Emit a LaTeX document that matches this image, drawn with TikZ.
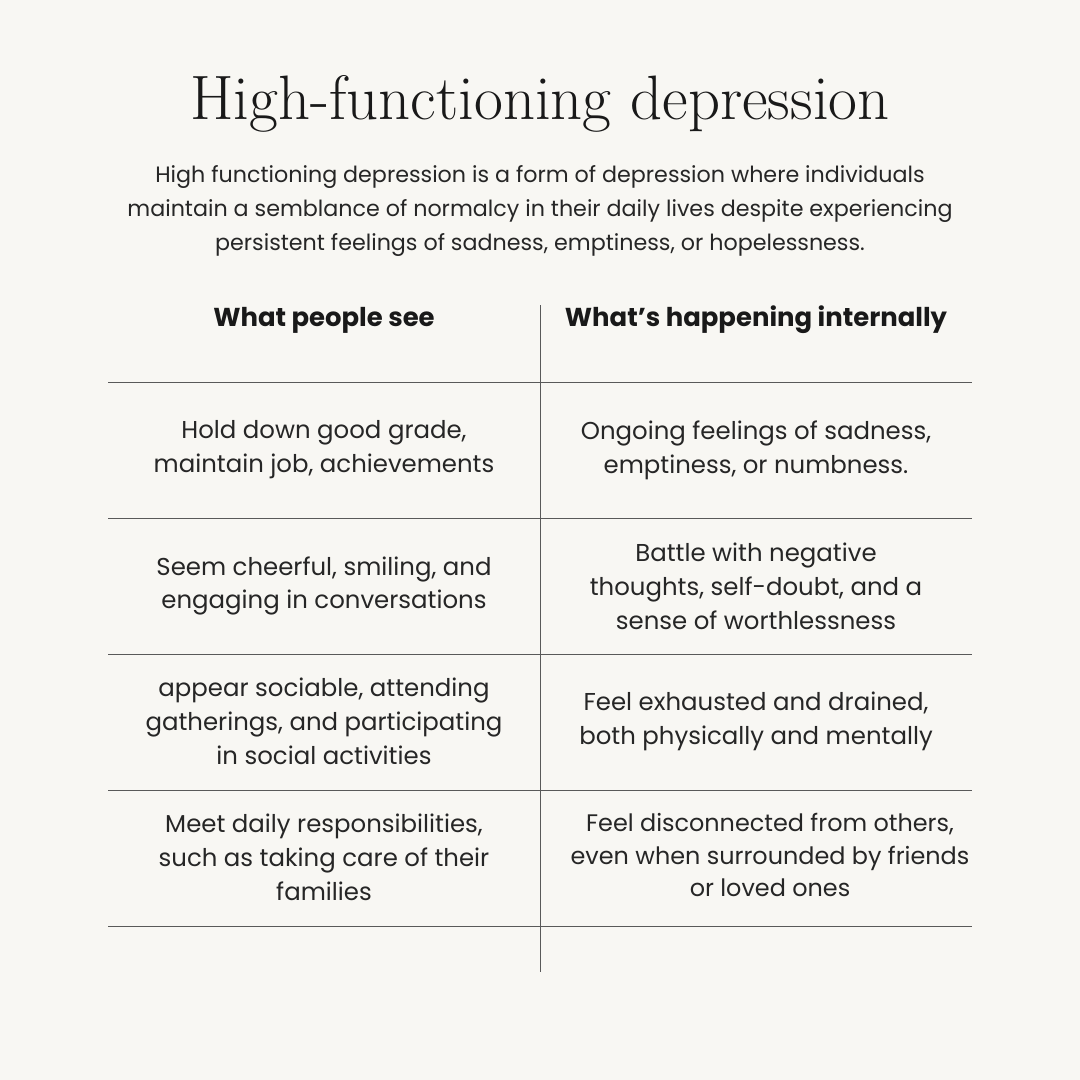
\documentclass[tikz,border=0pt]{standalone}
\usepackage{fontspec}
\setsansfont{Poppins}
\begin{document}
\begin{tikzpicture}[x=1bp,y=-1bp,
  cell/.style={font=\sffamily\fontsize{24.5}{34}\selectfont,align=center,text=black!85},
  head/.style={font=\sffamily\bfseries\fontsize{26}{30}\selectfont,text=black!90},
  rule/.style={draw=black!65,line width=0.9bp}]
\fill[fill={rgb,255:red,248;green,247;blue,243}] (0,0) rectangle (1080,1080);
\useasboundingbox (0,0) rectangle (1080,1080);
\node[font=\fontsize{63}{70}\selectfont,text=black!90] (title) at (540,104) {High-functioning depression};
\node[font=\sffamily\fontsize{22.3}{34}\selectfont,align=center,text=black!85] (intro) at (540,211) {High functioning depression is a form of depression where individuals\\maintain a semblance of normalcy in their daily lives despite experiencing\\persistent feelings of sadness, emptiness, or hopelessness.};
\foreach \y/\n in {382/a,518/b,654/c,790/d,926/e}{
  \coordinate (l\n) at (108,\y); \coordinate (r\n) at (972,\y);
  \draw[rule] (l\n) -- (r\n);}
\coordinate (vt) at (540,305); \coordinate (vb) at (540,972);
\draw[rule] (vt) -- (vb);
\node[head] (h1) at (324,320) {What people see};
\node[head] (h2) at (756,320) {What’s happening internally};
\node[cell] (a1) at (324,450) {Hold down good grade,\\maintain job, achievements};
\node[cell] (a2) at (756,450) {Ongoing feelings of sadness,\\emptiness, or numbness.};
\node[cell] (b1) at (324,586) {Seem cheerful, smiling, and\\engaging in conversations};
\node[cell] (b2) at (756,586) {Battle with negative\\thoughts, self-doubt, and a\\sense of worthlessness};
\node[cell] (c1) at (324,721) {appear sociable, attending\\gatherings, and participating\\in social activities};
\node[cell] (c2) at (756,721) {Feel exhausted and drained,\\both physically and mentally};
\node[cell] (d1) at (324,857) {Meet daily responsibilities,\\such as taking care of their\\families};
\node[cell,font=\sffamily\fontsize{24}{32.5}\selectfont] (d2) at (770,855) {Feel disconnected from others,\\even when surrounded by friends\\or loved ones};
\end{tikzpicture}
\end{document}
